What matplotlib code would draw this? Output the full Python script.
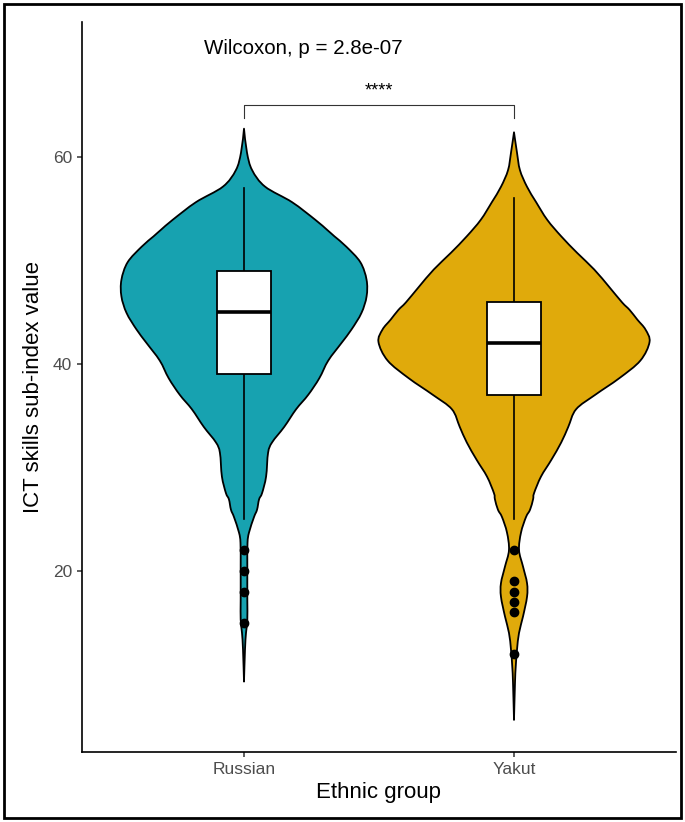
import matplotlib
matplotlib.use("Agg")
import matplotlib.pyplot as plt
from matplotlib.patches import Rectangle, PathPatch
from matplotlib.path import Path

plt.rcParams['font.family'] = ['Liberation Sans', 'DejaVu Sans']

groups = ['Russian', 'Yakut']
colors = ['#17A2B0', '#E0AA0B']

# violin outlines: value levels and half-width (in category units)
russian_levels = [9.3, 12.4, 14.0, 15.3, 17.2, 20.4, 22.7, 23.7, 25.2, 25.9, 26.9, 27.5,
                  29.1, 31.4, 32.4, 33.9, 35.6, 37.0, 38.6, 40.3, 42.0, 43.3, 44.9, 46.5,
                  48.1, 49.8, 51.3, 52.3, 52.9, 53.9, 55.6, 57.1, 58.7, 60.4, 62.7]
russian_halfw = [0, .0037, .0074, .0123, .0123, .0123, .013, .0186, .0372, .0483, .0558, .0669,
                 .0818, .0892, .104, .149, .193, .238, .279, .312, .361, .398, .435, .454,
                 .454, .431, .379, .335, .309, .264, .178, .078, .030, .011, 0]

yakut_levels = [5.6, 9.2, 10.7, 12.4, 14.0, 15.6, 17.5, 18.8, 20.4, 22.0, 23.7, 25.2, 25.9,
                26.9, 27.5, 29.1, 30.7, 32.4, 33.9, 35.6, 37.0, 38.6, 40.3, 42.1, 43.3, 44.25,
                45.2, 45.9, 47.4, 49.1, 50.7, 52.3, 53.9, 55.6, 57.1, 58.7, 60.4, 62.35]
yakut_halfw = [0, .0037, .0063, .0112, .0186, .0335, .0483, .0483, .0335, .0186, .026, .0446, .0595,
               .0706, .0743, .100, .138, .175, .201, .230, .301, .390, .468, .502, .487, .457,
               .428, .401, .353, .297, .234, .175, .123, .082, .048, .022, .011, 0]

# boxplot statistics
q1 = [39, 37]
medians = [45, 42]
q3 = [49, 46]
whisker_low = [25, 25]
whisker_high = [57, 56]
outliers = [[22, 20, 18, 15], [22, 19, 18, 17, 16, 12]]

test_label = 'Wilcoxon, p = 2.8e-07'
signif = '****'


def spline_segments(pts):
    """Cubic Bezier pieces (Catmull-Rom) running through every point of pts."""
    verts = []
    n = len(pts)
    for k in range(n - 1):
        p0 = pts[max(k - 1, 0)]
        p1 = pts[k]
        p2 = pts[k + 1]
        p3 = pts[min(k + 2, n - 1)]
        c1 = (p1[0] + (p2[0] - p0[0]) / 6, p1[1] + (p2[1] - p0[1]) / 6)
        c2 = (p2[0] - (p3[0] - p1[0]) / 6, p2[1] - (p3[1] - p1[1]) / 6)
        verts += [c1, c2, p2]
    return verts


def violin_patch(pos, levels, halfw, color):
    right = [(pos + w, v) for v, w in zip(levels, halfw)]
    left = [(pos - w, v) for v, w in zip(levels, halfw)][::-1]
    verts = [right[0]] + spline_segments(right) + spline_segments(left) + [right[0]]
    codes = [Path.MOVETO] + [Path.CURVE4] * (len(verts) - 2) + [Path.CLOSEPOLY]
    return PathPatch(Path(verts, codes), facecolor=color, edgecolor='black',
                     linewidth=1.3, joinstyle='round', zorder=2)


fig = plt.figure(figsize=(6.85, 8.22), dpi=100)
ax = fig.add_axes([82 / 685, 1 - 752 / 822, 594 / 685, 730 / 822])

violins = [(russian_levels, russian_halfw), (yakut_levels, yakut_halfw)]
for i, (lev, hw) in enumerate(violins):
    pos = i + 1
    ax.add_patch(violin_patch(pos, lev, hw, colors[i]))
    # whiskers
    ax.plot([pos, pos], [whisker_low[i], q1[i]], color='black', lw=1.2, zorder=3)
    ax.plot([pos, pos], [q3[i], whisker_high[i]], color='black', lw=1.2, zorder=3)
    # box
    ax.add_patch(Rectangle((pos - 0.1, q1[i]), 0.2, q3[i] - q1[i], facecolor='white',
                           edgecolor='black', linewidth=1.3, zorder=4))
    ax.plot([pos - 0.1, pos + 0.1], [medians[i], medians[i]], color='black', lw=2.6,
            solid_capstyle='butt', zorder=5)
    ax.plot([pos] * len(outliers[i]), outliers[i], 'o', color='black', ms=6, zorder=6)

# significance bracket
ax.plot([1, 1, 2, 2], [63.7, 65, 65, 63.7], color='#333333', lw=0.8)
ax.text(1.5, 66.3, signif, ha='center', va='center', fontsize=13)
ax.text(0.851, 70.4, test_label, ha='left', va='center', fontsize=14.8)

ax.set_xlim(0.4, 2.6)
ax.set_ylim(2.5, 73)
ax.set_xticks([1, 2])
ax.set_xticklabels(groups)
ax.set_yticks([20, 40, 60])

for side in ['top', 'right']:
    ax.spines[side].set_visible(False)
for side in ['left', 'bottom']:
    ax.spines[side].set_linewidth(1.2)
ax.tick_params(length=3.6, width=1.1, color='#333333', labelcolor='#4D4D4D',
               labelsize=12.5, pad=3.5)

ax.set_xlabel('Ethnic group', fontsize=16)
ax.set_ylabel('ICT skills sub-index value', fontsize=16)
ax.xaxis.label.set_va('center')
ax.yaxis.label.set_va('center')
ax.xaxis.set_label_coords(0.5, -0.056)
ax.yaxis.set_label_coords(-0.081, 0.5)

# frame around the whole figure
fig.patches.append(Rectangle((4 / 685, 4 / 822), 677 / 685, 814 / 822, transform=fig.transFigure,
                             fill=False, edgecolor='black', linewidth=2))

fig.savefig('out.png', dpi=100)
